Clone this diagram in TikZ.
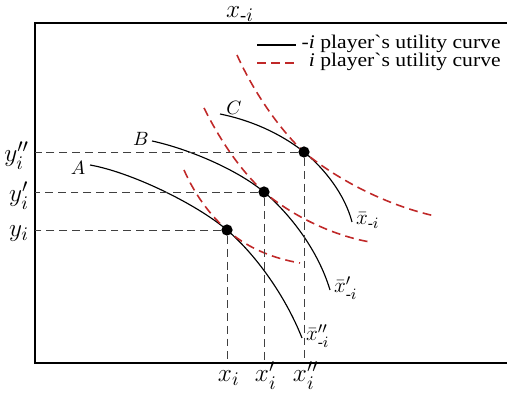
\documentclass[tikz,border=0pt]{standalone}
\usepackage{amsmath}
\usepackage{graphicx}
\usepackage{fontspec}
\setmainfont{Liberation Serif}
\begin{document}
\begin{tikzpicture}[x=0.02cm, y=-0.02cm,
    guide/.style={dash pattern=on 4.5pt off 2.8pt, line width=0.55pt, black!75},
    ucurve/.style={line width=0.65pt},
    icurve/.style={redline, line width=0.9pt, dash pattern=on 5pt off 3pt},
    dot/.style={circle, fill, inner sep=0pt, minimum size=6.4pt},
    biglbl/.style={font=\fontsize{15}{18}\selectfont},
    endlbl/.style={font=\fontsize{12.5}{15}\selectfont, anchor=base west, inner sep=1pt},
    curvelbl/.style={font=\fontsize{11}{13}\selectfont},
    legtext/.style={font=\fontsize{11}{13}\selectfont, anchor=base east, inner sep=0pt,
        text height=7pt, text depth=2pt}]
    % Màu đỏ cho đường bàng quan của người chơi i
    \definecolor{redline}{RGB}{192, 40, 40}
    \useasboundingbox (0,0) rectangle (507,394);

    % 1. Khung
    \coordinate (O) at (35,363);
    \coordinate (T) at (35,23);
    \draw[line width=0.9pt] (507,23) -- (T) -- (O) -- (507,363);
    \node[biglbl, anchor=base] (title) at (240,18) {$x_{\text{-}i}$};

    % 2. Chú thích
    \draw[ucurve] (257,45) -- (296,45);
    \node[legtext] (leg1) at (501,49) {\scalebox{1.12}[1]{-\textit{i} player\textasciigrave s utility curve}};
    \draw[icurve] (257,63) -- (296,63);
    \node[legtext] (leg2) at (501,67) {\scalebox{1.12}[1]{\textit{i} player\textasciigrave s utility curve}};

    % 3. Đường lợi ích của người chơi -i (nét liền)
    \draw[ucurve] (90,165) .. controls (130,172) and (195,203) .. (227,230)
        .. controls (255,254) and (285,295) .. (302,338);
    \draw[ucurve] (152,141) .. controls (185,148) and (235,168) .. (264,192)
        .. controls (290,214) and (318,250) .. (330,290);
    \draw[ucurve] (220,114) .. controls (250,120) and (280,133) .. (304,152)
        .. controls (325,169) and (345,195) .. (352,222);
    \node[curvelbl] (lA) at (78,168) {$A$};
    \node[curvelbl] (lB) at (141,139) {$B$};
    \node[curvelbl] (lC) at (234,108) {$C$};
    \node[endlbl] (eA) at (304,341) {$\bar{x}''_{\text{-}i}$};
    \node[endlbl] (eB) at (332,293) {$\bar{x}'_{\text{-}i}$};
    \node[endlbl] (eC) at (354,225) {$\bar{x}_{\text{-}i}$};

    % 4. Đường lợi ích của người chơi i (nét đứt đỏ)
    \draw[icurve] (184,170) .. controls (195,195) and (210,215) .. (227,230)
        .. controls (245,246) and (270,258) .. (300,263);
    \draw[icurve] (204,108) .. controls (220,140) and (240,170) .. (264,192)
        .. controls (290,214) and (330,235) .. (370,242);
    \draw[icurve] (237,55) .. controls (255,95) and (282,132) .. (304,152)
        .. controls (335,178) and (385,205) .. (435,216);

    % 5. Điểm cân bằng và đường gióng
    \node[dot] (E1) at (227,230) {};
    \node[dot] (E2) at (264,192) {};
    \node[dot] (E3) at (304,152) {};
    \foreach \p in {E1,E2,E3} {
        \draw[guide] (\p) -- (\p -| O);
        \draw[guide] (\p) -- (\p |- O);
    }
    \node[biglbl, anchor=east, yshift=-2pt] (y1) at (E1 -| O) {$y_i$};
    \node[biglbl, anchor=east, yshift=-2pt] (y2) at (E2 -| O) {$y'_i$};
    \node[biglbl, anchor=east, yshift=-2pt] (y3) at (E3 -| O) {$y''_i$};
    \node[biglbl, anchor=base, xshift=1pt] (x1) at (227,382) {$x_i$};
    \node[biglbl, anchor=base, xshift=1pt] (x2) at (264,382) {$x'_i$};
    \node[biglbl, anchor=base, xshift=1pt] (x3) at (304,382) {$x''_i$};
\end{tikzpicture}
\end{document}
